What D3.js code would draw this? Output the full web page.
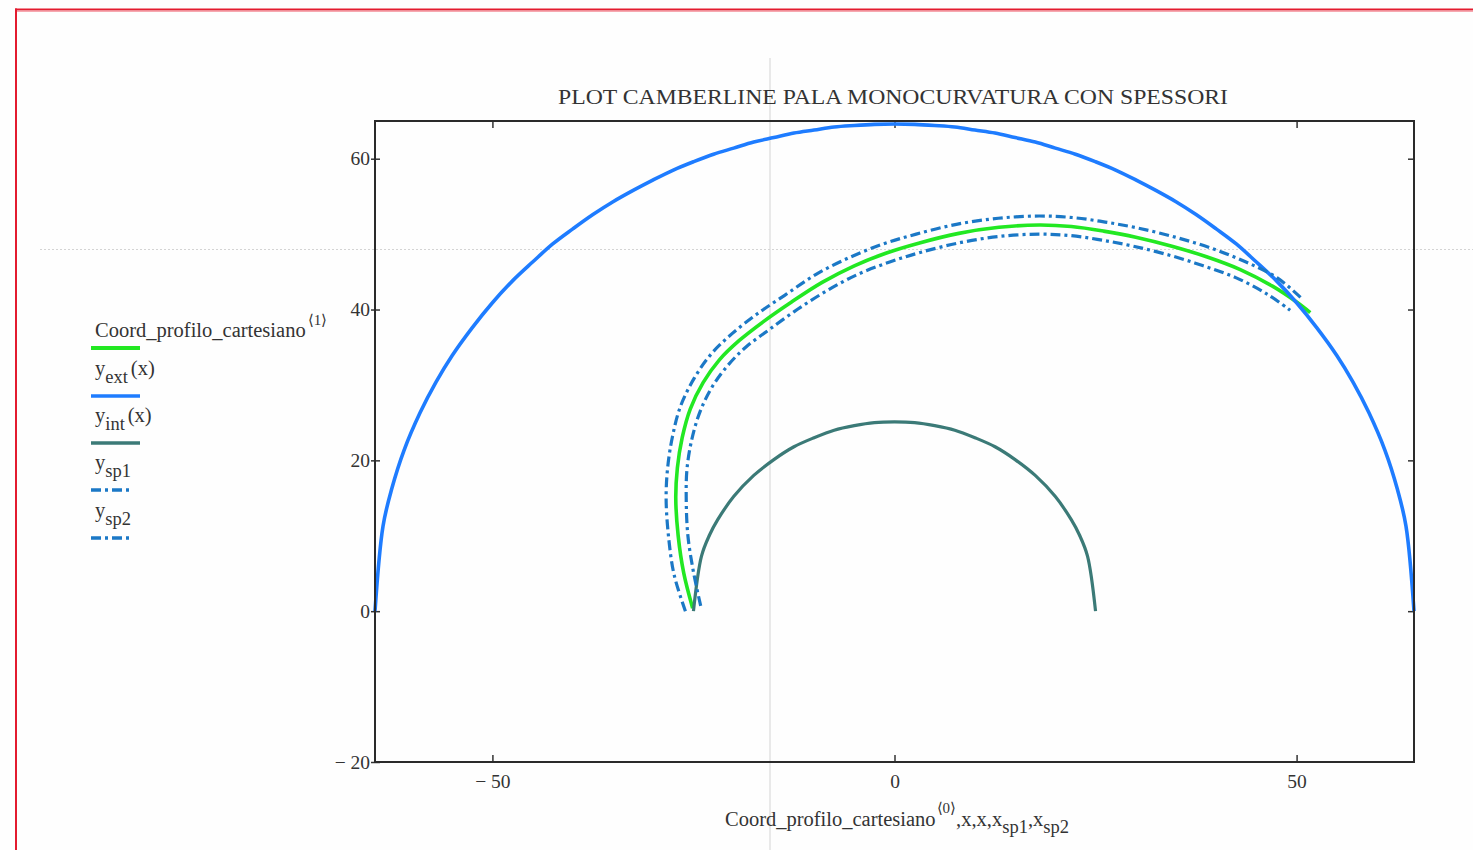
<!DOCTYPE html>
<html>
<head>
<meta charset="utf-8">
<script src="https://cdn.jsdelivr.net/npm/d3@7"></script>
<style>
  body { margin: 0; background: #fefefe; }
  svg text { font-family: "Liberation Serif", "Times New Roman", serif; fill: #333; }
</style>
</head>
<body>
<svg id="chart" width="1473" height="850"></svg>
<script>
//
// Data
//

var xTicks = [-50, 0, 50]
var yTicks = [-20, 0, 20, 40, 60]

// y_ext(x): outer circle
var extX = [-64.6, -63.6, -62.5, -61, -59, -57, -55, -52.5, -50, -47.5, -45, -42.5, -40, -37.5, -35, -32.5, -30, -27.5, -25,
  -22.5, -20, -17.5, -15, -12.5, -10, -7.5, -5, -2.5, 0,
  2.5, 5, 7.5, 10, 12.5, 15, 17.5, 20, 22.5, 25, 27.5, 30, 32.5, 35, 37.5, 40, 42.5, 45, 47.5, 50, 52.5, 55, 57, 59, 61, 62.5, 63.6, 64.6]
var extY = [0, 11.3, 16.3, 21.3, 26.3, 30.4, 33.9, 37.6, 40.9, 43.8, 46.3, 48.7, 50.7, 52.6, 54.3, 55.8, 57.2, 58.5, 59.6,
  60.6, 61.4, 62.2, 62.8, 63.4, 63.8, 64.2, 64.4, 64.55, 64.6,
  64.55, 64.4, 64.2, 63.8, 63.4, 62.8, 62.2, 61.4, 60.6, 59.6, 58.5, 57.2, 55.8, 54.3, 52.6, 50.7, 48.7, 46.3, 43.8, 40.9, 37.6, 33.9, 30.4, 26.3, 21.3, 16.3, 11.3, 0]

// y_int(x): inner circle
var intX = [-25, -24, -23, -22, -20, -17.5, -15, -12.5, -10, -7.5, -5, -2.5, 0, 2.5, 5, 7.5, 10, 12.5, 15, 17.5, 20, 22, 23, 24, 25]
var intY = [0, 7.3, 10.1, 12.1, 15.2, 18.0, 20.1, 21.8, 23.0, 24.0, 24.6, 25.0, 25.1, 25.0, 24.6, 24.0, 23.0, 21.8, 20.1, 18.0, 15.2, 12.1, 10.1, 7.3, 0]

// Coord_profilo_cartesiano: camberline
var camberX = [-25.1, -26.2, -26.9, -27.2, -27.0, -26.4, -25.4, -23.8, -21.8, -19.3, -16.3, -12.8, -9.0, -5.0, -1.0, 3.0, 8.0,
  13.0, 18.0, 22.0, 26.0, 30.0, 34.5, 38.8, 43.0, 47.0, 50.0, 51.7]
var camberY = [0.4, 5.0, 10.0, 15.0, 19.0, 23.0, 26.8, 30.3, 33.3, 35.9, 38.4, 41.0, 43.6, 45.8, 47.5, 48.8, 50.1,
  50.9, 51.2, 51.0, 50.4, 49.6, 48.4, 47.0, 45.3, 43.1, 41.0, 39.6]

// y_sp1: outer thickness
var sp1X = [-26.0, -27.4, -28.1, -28.4, -28.2, -27.6, -26.6, -24.9, -22.8, -20.2, -17.1, -13.5, -9.7, -5.6, -1.4, 2.7, 7.7,
  12.9, 18.0, 22.1, 26.2, 30.3, 34.9, 39.2, 43.5, 47.6, 50.6]
var sp1Y = [0.0, 4.8, 9.9, 15.0, 19.1, 23.2, 27.2, 30.9, 34.1, 36.8, 39.4, 42.0, 44.7, 46.9, 48.7, 50.0, 51.3,
  52.1, 52.4, 52.2, 51.6, 50.8, 49.6, 48.2, 46.4, 44.2, 41.5]

// y_sp2: inner thickness
var sp2X = [-24.1, -25.0, -25.7, -25.9, -25.8, -25.2, -24.2, -22.7, -20.8, -18.5, -15.5, -12.1, -8.4, -4.5, -0.6, 3.3, 8.3,
  13.1, 18.0, 21.9, 25.8, 29.7, 34.2, 38.4, 42.5, 46.4, 49.2]
var sp2Y = [0.7, 5.2, 10.1, 15.0, 18.9, 22.8, 26.4, 29.7, 32.5, 35.0, 37.4, 40.0, 42.5, 44.7, 46.3, 47.6, 48.9,
  49.7, 50.0, 49.8, 49.2, 48.4, 47.2, 45.8, 44.2, 42.0, 39.9]

//
// Styles
//

var colorCamber = '#22e822'
var colorExt = '#1e7cff'
var colorInt = '#3b7a77'
var colorSp = '#1b78c6'
var dashSp = '10,4,3,4'
var serif = '"Liberation Serif", "Times New Roman", serif'

//
// Chart
//

var svg = d3.select('#chart')
var plotL = 375, plotR = 1414, plotT = 121, plotB = 762

var x = d3.scaleLinear().domain([-64.6, 64.6]).range([plotL, plotR])
var y = d3.scaleLinear().domain([-20, 65]).range([plotB, plotT])

function fmt(d) {
  return d < 0 ? '\u2212 ' + Math.abs(d) : String(d)
}

function zip(xs, ys) {
  return xs.map(function (v, i) { return [v, ys[i]] })
}

// page frame (red) and worksheet guide lines
svg.append('line').attr('x1', 15).attr('x2', 1473).attr('y1', 9.5).attr('y2', 9.5)
  .attr('stroke', '#e31b2f').attr('stroke-width', 2.2)
svg.append('line').attr('x1', 17).attr('x2', 1473).attr('y1', 11.5).attr('y2', 11.5)
  .attr('stroke', '#f6a8b0').attr('stroke-width', 1)
svg.append('line').attr('x1', 16).attr('x2', 16).attr('y1', 8.5).attr('y2', 850)
  .attr('stroke', '#e31b2f').attr('stroke-width', 2)
svg.append('line').attr('x1', 770).attr('x2', 770).attr('y1', 58).attr('y2', 850)
  .attr('stroke', '#e2e2e2').attr('stroke-width', 1.5)
svg.append('line').attr('x1', 40).attr('x2', 1473).attr('y1', 249.5).attr('y2', 249.5)
  .attr('stroke', '#d4d4d4').attr('stroke-width', 1).attr('stroke-dasharray', '2,2')

// title
svg.append('text').attr('x', 893).attr('y', 104).attr('text-anchor', 'middle')
  .attr('font-size', 22).attr('textLength', 670).attr('lengthAdjust', 'spacingAndGlyphs')
  .text('PLOT CAMBERLINE PALA MONOCURVATURA CON SPESSORI')

// axes
function styleAxis(g) {
  g.select('.domain').remove()
  g.attr('font-family', serif).attr('font-size', 19.5).attr('color', '#333')
  g.selectAll('.tick line').attr('stroke-width', 1.5)
}

svg.append('g').attr('transform', 'translate(0,' + plotB + ')')
  .call(d3.axisBottom(x).tickValues(xTicks).tickSize(-7).tickPadding(12).tickFormat(fmt))
  .call(styleAxis)

svg.append('g').attr('transform', 'translate(0,' + plotT + ')')
  .call(d3.axisTop(x).tickValues(xTicks).tickSize(-7).tickFormat(''))
  .call(styleAxis)

svg.append('g').attr('transform', 'translate(' + plotL + ',0)')
  .call(d3.axisLeft(y).tickValues(yTicks).tickSize(4).tickPadding(1).tickFormat(fmt))
  .call(styleAxis)
  .call(function (g) { g.selectAll('.tick line').attr('x1', 5) })

svg.append('g').attr('transform', 'translate(' + plotR + ',0)')
  .call(d3.axisRight(y).tickValues(yTicks.slice(1)).tickSize(-6).tickFormat(''))
  .call(styleAxis)

// traces
var line = d3.line()
  .x(function (d) { return x(d[0]) })
  .y(function (d) { return y(d[1]) })
  .curve(d3.curveCatmullRom.alpha(0.5))

var traces = [
  { pts: zip(camberX, camberY), color: colorCamber, width: 3.6, dash: null },
  { pts: zip(extX, extY), color: colorExt, width: 3.6, dash: null },
  { pts: zip(intX, intY), color: colorInt, width: 3.2, dash: null },
  { pts: zip(sp1X, sp1Y), color: colorSp, width: 3.2, dash: dashSp },
  { pts: zip(sp2X, sp2Y), color: colorSp, width: 3.2, dash: dashSp }
]

svg.append('g').selectAll('path').data(traces).enter().append('path')
  .attr('d', function (d) { return line(d.pts) })
  .attr('fill', 'none')
  .attr('stroke', function (d) { return d.color })
  .attr('stroke-width', function (d) { return d.width })
  .attr('stroke-dasharray', function (d) { return d.dash })
  .attr('stroke-linejoin', 'round')

// frame
svg.append('rect').attr('x', plotL).attr('y', plotT).attr('width', plotR - plotL).attr('height', plotB - plotT)
  .attr('fill', 'none').attr('stroke', '#2a2a2a').attr('stroke-width', 2)

// legend
var legendRows = [
  { lineY: 348, main: 'Coord_profilo_cartesiano', sup: '\u27E81\u27E9', color: colorCamber, dash: null, len: 49 },
  { lineY: 396, main: 'y', sub: 'ext', tail: '(x)', color: colorExt, dash: null, len: 49 },
  { lineY: 443, main: 'y', sub: 'int', tail: '(x)', color: colorInt, dash: null, len: 49 },
  { lineY: 490, main: 'y', sub: 'sp1', color: colorSp, dash: dashSp, len: 42 },
  { lineY: 538, main: 'y', sub: 'sp2', color: colorSp, dash: dashSp, len: 42 }
]

legendRows.forEach(function (r, i) {
  svg.append('line').attr('x1', 91).attr('x2', 91 + r.len).attr('y1', r.lineY).attr('y2', r.lineY)
    .attr('stroke', r.color).attr('stroke-width', i === 0 ? 4 : 3.6).attr('stroke-dasharray', r.dash)
  var t = svg.append('text').attr('x', 95).attr('y', i === 0 ? r.lineY - 11 : r.lineY - 21).attr('font-size', 20.5)
  t.append('tspan').text(r.main)
  if (r.sup) t.append('tspan').attr('dy', -12).attr('dx', 2).attr('font-size', 15).text(r.sup)
  if (r.sub) t.append('tspan').attr('dy', 8).attr('font-size', 18.5).text(r.sub)
  if (r.tail) t.append('tspan').attr('dy', -8).attr('dx', 3).text(r.tail)
})

// x axis label
var xl = svg.append('text').attr('x', 897).attr('y', 826).attr('text-anchor', 'middle').attr('font-size', 20.5)
xl.append('tspan').text('Coord_profilo_cartesiano')
xl.append('tspan').attr('dy', -13).attr('dx', 1).attr('font-size', 15).text('\u27E80\u27E9')
xl.append('tspan').attr('dy', 13).text(',x,x,x')
xl.append('tspan').attr('dy', 7).attr('font-size', 18.5).text('sp1')
xl.append('tspan').attr('dy', -7).text(',x')
xl.append('tspan').attr('dy', 7).attr('font-size', 18.5).text('sp2')
</script>
</body>
</html>
